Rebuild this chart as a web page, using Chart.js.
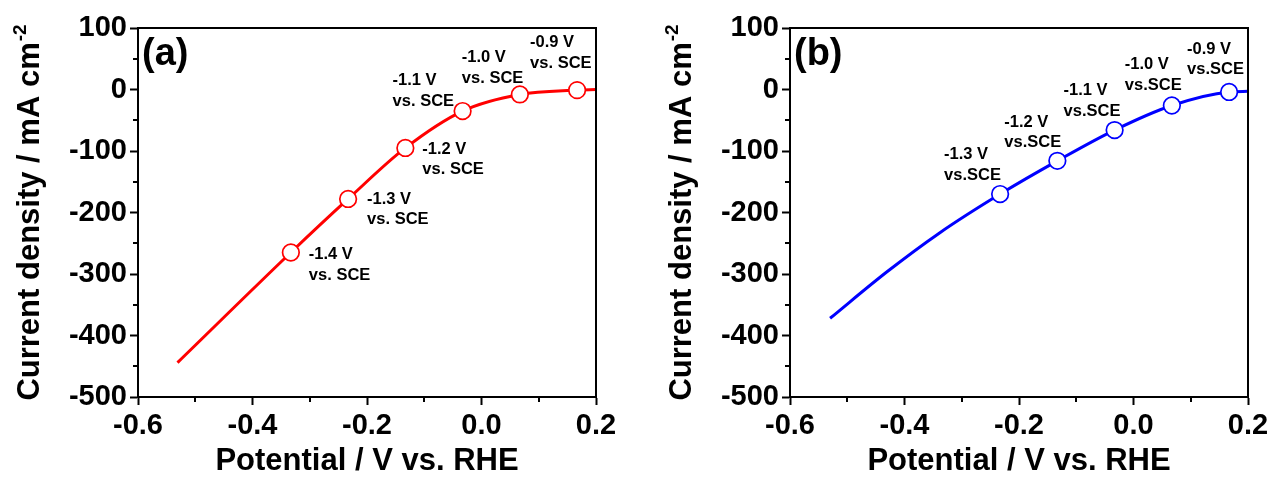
<!DOCTYPE html>
<html>
<head>
<meta charset="utf-8">
<script src="https://cdn.jsdelivr.net/npm/chart.js@4.4.1/dist/chart.umd.min.js"></script>
<style>
  html, body { margin: 0; padding: 0; background: #fff; }
  #wrap { position: relative; width: 1274px; height: 477px; }
  canvas { position: absolute; top: 0; }
  #cA { left: 0; }
  #cB { left: 637px; }
</style>
</head>
<body>
<div id="wrap">
  <canvas id="cA" width="637" height="477"></canvas>
  <canvas id="cB" width="637" height="477"></canvas>
</div>
<script>
// Applied potentials vs. SCE and the matching potentials vs. RHE
const sceLabelsA = ['-1.4 V', '-1.3 V', '-1.2 V', '-1.1 V', '-1.0 V', '-0.9 V'];
const rheA = [-0.333, -0.233, -0.133, -0.033, 0.067, 0.167];
const jA = [-265, -178, -95, -35, -8, -1];

const sceLabelsB = ['-1.3 V', '-1.2 V', '-1.1 V', '-1.0 V', '-0.9 V'];
const rheB = [-0.233, -0.133, -0.033, 0.067, 0.167];
const jB = [-170, -116, -66, -26, -4];

// Polarisation curves (potential vs. RHE, current density)
const curveAx = [-0.531, -0.333, -0.233, -0.133, -0.033, 0.067, 0.167, 0.2];
const curveAy = [-444, -265, -178, -95, -35, -8, -1, 0];
const curveBx = [-0.53, -0.43, -0.34, -0.233, -0.133, -0.033, 0.067, 0.167, 0.2];
const curveBy = [-372, -296, -234, -170, -116, -66, -26, -4, -3];

// Axis ticks
const xTicks = [-0.6, -0.4, -0.2, 0.0, 0.2];
const xMinor = [-0.5, -0.3, -0.1, 0.1];
const yTicks = [100, 0, -100, -200, -300, -400, -500];
const yMinor = [50, -50, -150, -250, -350, -450];

const FONT = '"Liberation Sans", Arial, Helvetica, sans-serif';

function pts(xs, ys) { return xs.map((x, i) => ({ x: x, y: ys[i] })); }

const panelPlugin = {
  id: 'panel',
  afterDraw(chart, args, o) {
    const ctx = chart.ctx;
    const a = chart.chartArea;
    const xs = chart.scales.x, ys = chart.scales.y;
    ctx.save();
    // closed frame
    ctx.strokeStyle = '#000';
    ctx.lineWidth = 2;
    ctx.strokeRect(a.left, a.top, a.right - a.left, a.bottom - a.top);
    // minor ticks
    ctx.beginPath();
    xMinor.forEach(v => {
      const p = Math.round(xs.getPixelForValue(v));
      ctx.moveTo(p, a.bottom); ctx.lineTo(p, a.bottom + 5);
    });
    yMinor.forEach(v => {
      const p = Math.round(ys.getPixelForValue(v));
      ctx.moveTo(a.left, p); ctx.lineTo(a.left - 5, p);
    });
    ctx.stroke();

    // point annotations
    ctx.fillStyle = '#000';
    ctx.font = 'bold 16.5px ' + FONT;
    ctx.textAlign = 'left';
    ctx.textBaseline = 'alphabetic';
    o.labels.forEach((t, i) => {
      const px = xs.getPixelForValue(o.px[i]);
      const py = ys.getPixelForValue(o.py[i]);
      const off = o.offsets[i];
      const base = py + off[1] + 12;
      ctx.fillText(t, px + off[0], base);
      ctx.fillText(o.second, px + off[0], base + 20.5);
    });

    // panel letter
    ctx.font = 'bold 38px ' + FONT;
    ctx.fillText(o.letter, a.left + 4, 65);

    // x axis title
    ctx.font = 'bold 31px ' + FONT;
    ctx.textAlign = 'center';
    ctx.fillText('Potential / V vs. RHE', (a.left + a.right) / 2, 470);

    // y axis title with superscript
    const main = 'Current density / mA cm';
    const sup = '-2';
    ctx.font = 'bold 31px ' + FONT;
    const w1 = ctx.measureText(main).width;
    ctx.font = 'bold 19px ' + FONT;
    const w2 = ctx.measureText(sup).width;
    const total = w1 + w2 + 1;
    ctx.translate(o.yTitleX, (a.top + a.bottom) / 2);
    ctx.rotate(-Math.PI / 2);
    ctx.textAlign = 'left';
    ctx.font = 'bold 31px ' + FONT;
    ctx.fillText(main, -total / 2, 0);
    ctx.font = 'bold 19px ' + FONT;
    ctx.fillText(sup, -total / 2 + w1 + 1, -13);
    ctx.restore();
  }
};

function makePanel(id, color, cx, cy, mx, my, labels, second, letter, offsets, padRight, yWidth, yTitleX) {
  return new Chart(document.getElementById(id), {
    type: 'scatter',
    data: {
      datasets: [
        {
          data: pts(cx, cy),
          showLine: true,
          borderColor: color,
          borderWidth: 3,
          pointRadius: 0,
          cubicInterpolationMode: 'monotone',
          order: 2
        },
        {
          data: pts(mx, my),
          showLine: false,
          pointStyle: 'circle',
          pointRadius: 8.3,
          pointBackgroundColor: '#fff',
          pointBorderColor: color,
          pointBorderWidth: 1.7,
          order: 1
        }
      ]
    },
    options: {
      responsive: false,
      animation: false,
      devicePixelRatio: 1,
      layout: { padding: { top: 28, right: padRight, left: 0, bottom: 0 } },
      plugins: {
        legend: { display: false },
        tooltip: { enabled: false },
        panel: { labels: labels, second: second, px: mx, py: my, letter: letter, offsets: offsets, yTitleX: yTitleX }
      },
      scales: {
        x: {
          type: 'linear',
          min: -0.6, max: 0.2,
          afterBuildTicks: s => { s.ticks = xTicks.map(v => ({ value: v })); },
          afterFit: s => { s.height = 80; },
          grid: { drawOnChartArea: false, drawTicks: true, tickLength: 8, tickWidth: 2, tickColor: '#000' },
          border: { display: true, width: 2, color: '#000' },
          ticks: {
            color: '#000',
            padding: 4,
            font: { family: FONT, size: 29, weight: 'bold' },
            callback: v => Number(v).toFixed(1)
          }
        },
        y: {
          type: 'linear',
          min: -500, max: 100,
          afterBuildTicks: s => { s.ticks = yTicks.map(v => ({ value: v })); },
          afterFit: s => { s.width = yWidth; },
          grid: { drawOnChartArea: false, drawTicks: true, tickLength: 8, tickWidth: 2, tickColor: '#000' },
          border: { display: true, width: 2, color: '#000' },
          ticks: {
            color: '#000',
            padding: 3,
            font: { family: FONT, size: 29, weight: 'bold' },
            callback: v => String(v)
          }
        }
      }
    },
    plugins: [panelPlugin]
  });
}

makePanel('cA', '#ff0000', curveAx, curveAy, rheA, jA, sceLabelsA, 'vs. SCE', '(a)',
  [[18, -5], [19, -7], [17, -6], [-70, -38], [-58, -44], [-47, -55]], 41, 138, 39);

makePanel('cB', '#0000ff', curveBx, curveBy, rheB, jB, sceLabelsB, 'vs.SCE', '(b)',
  [[-56, -47], [-53, -46], [-51, -47], [-47, -48], [-42, -50]], 26, 153, 54);
</script>
</body>
</html>
